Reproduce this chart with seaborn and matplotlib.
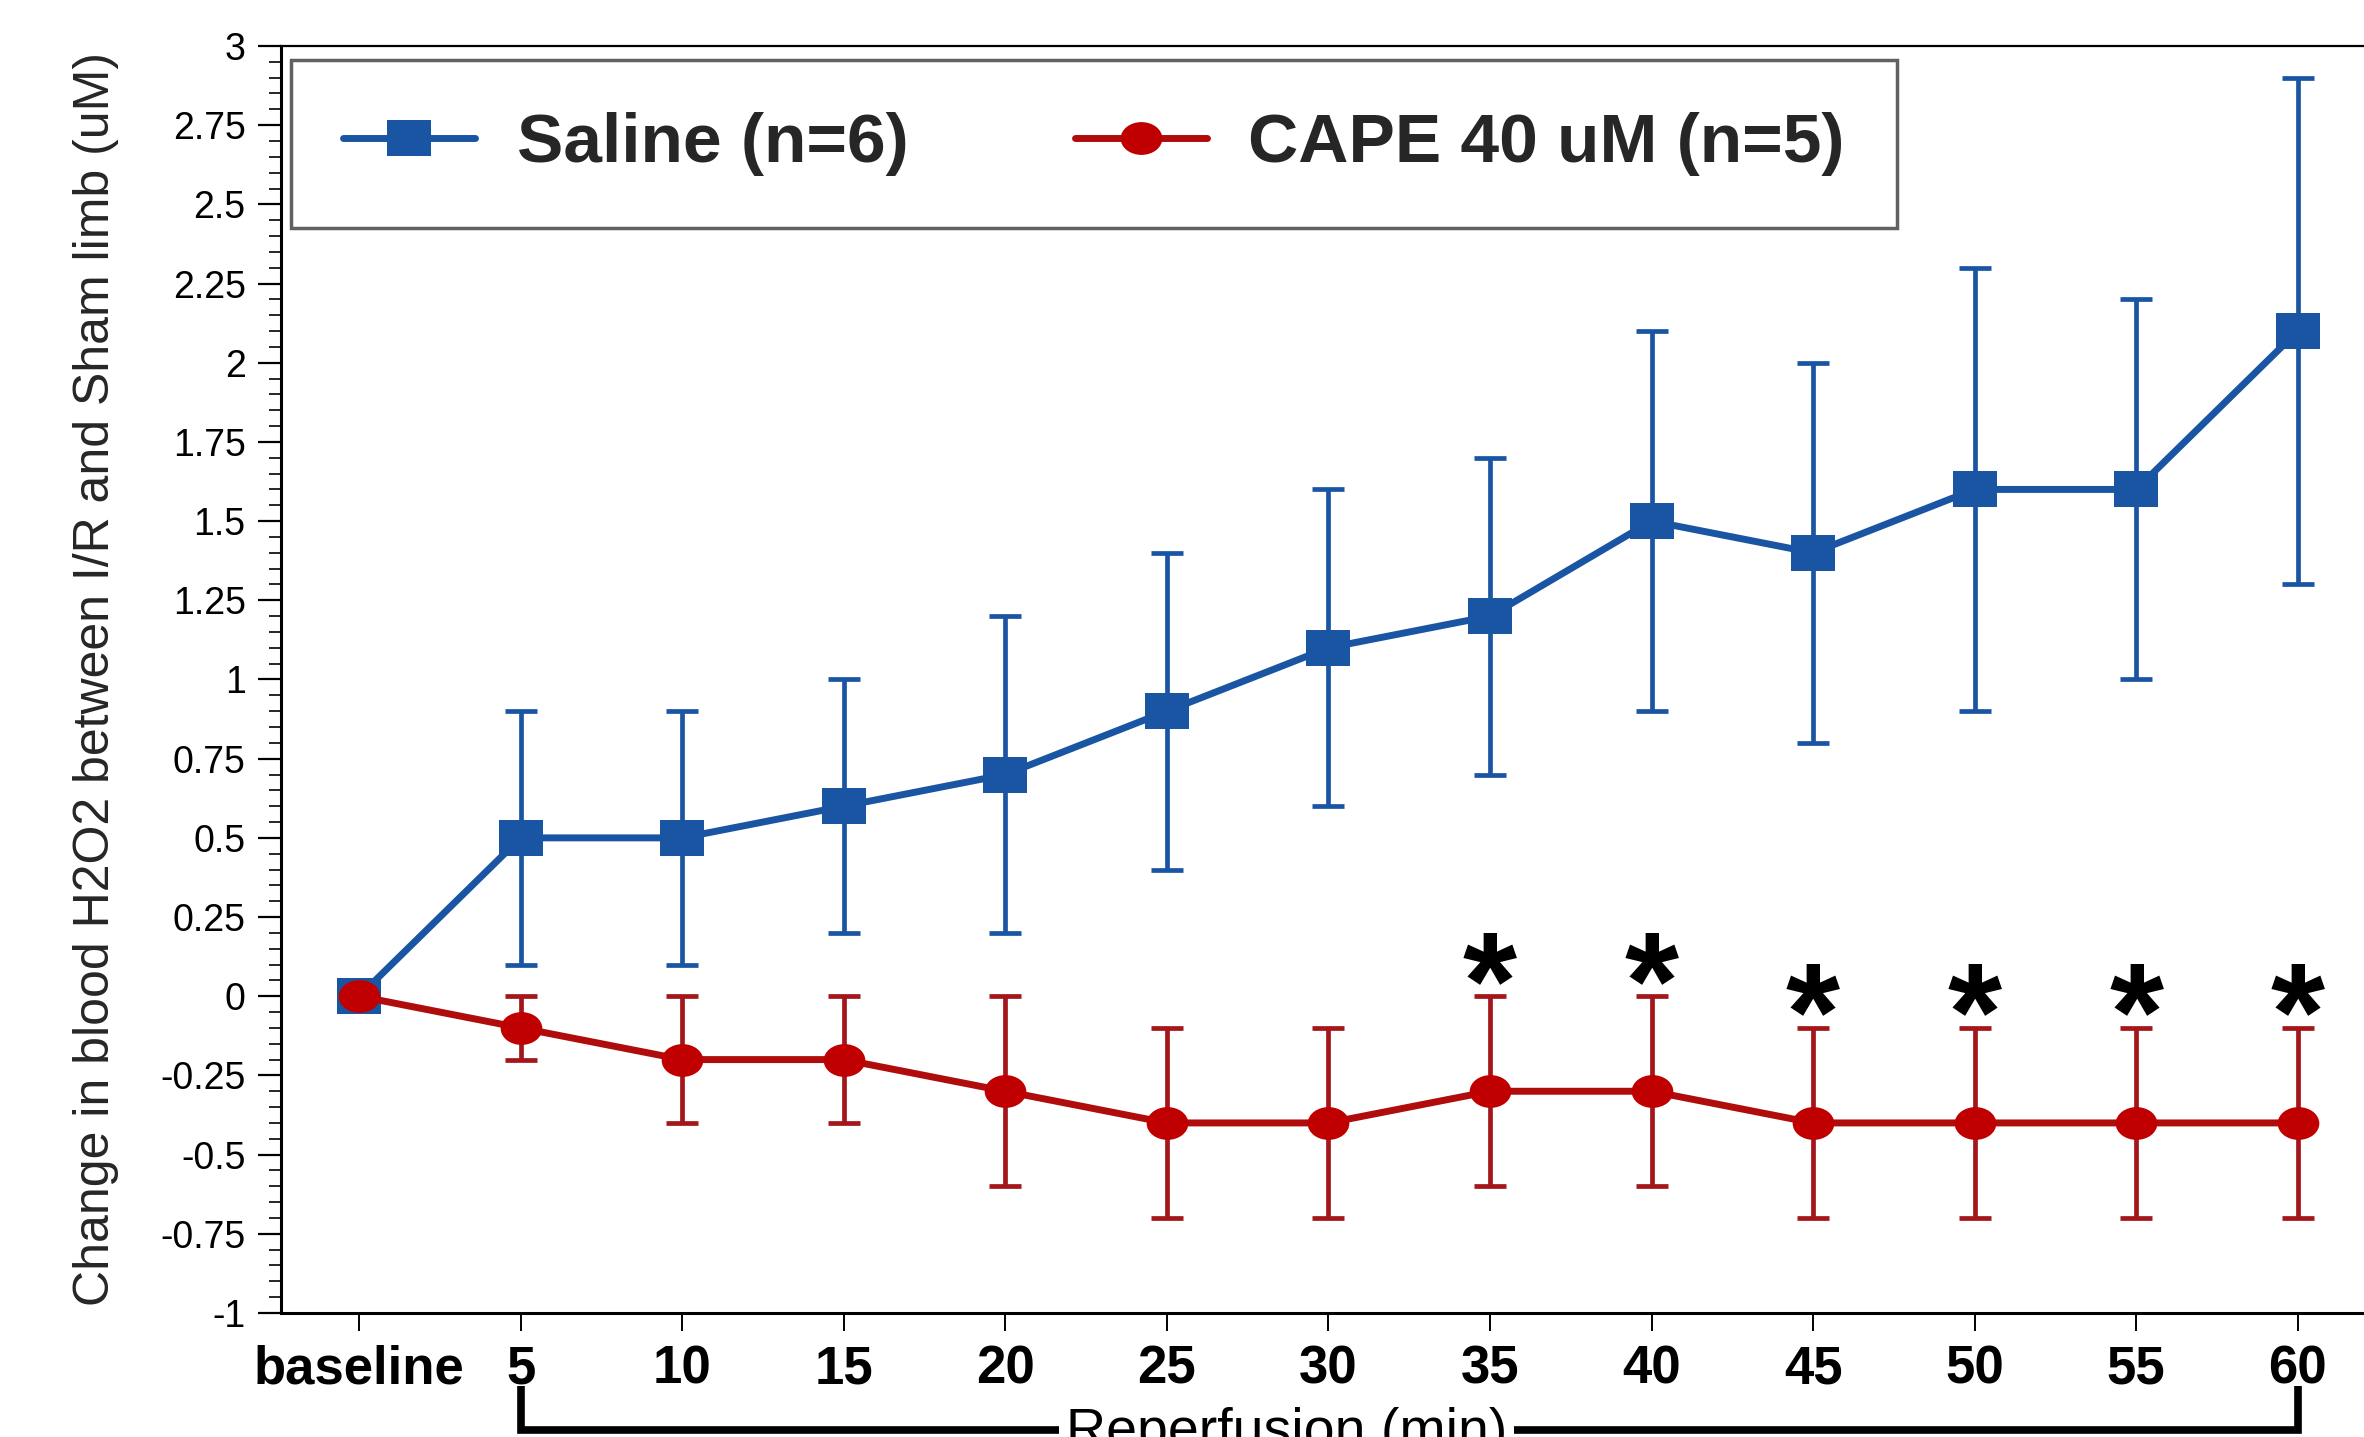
import numpy as np
import pandas as pd
import matplotlib
matplotlib.use("Agg")
import matplotlib.pyplot as plt
import seaborn as sns
from matplotlib.path import Path
from matplotlib.transforms import Affine2D, blended_transform_factory
from matplotlib.lines import Line2D
from matplotlib.ticker import MultipleLocator, FuncFormatter

# ---------------- data ----------------
time_labels = ["baseline", "5", "10", "15", "20", "25", "30",
               "35", "40", "45", "50", "55", "60"]
saline_mean = [0.0, 0.5, 0.5, 0.6, 0.7, 0.9, 1.1, 1.2, 1.5, 1.4, 1.6, 1.6, 2.1]
saline_err = [0.0, 0.4, 0.4, 0.4, 0.5, 0.5, 0.5, 0.5, 0.6, 0.6, 0.7, 0.6, 0.8]
cape_mean = [0.0, -0.1, -0.2, -0.2, -0.3, -0.4, -0.4, -0.3, -0.3, -0.4, -0.4, -0.4, -0.4]
cape_err = [0.0, 0.1, 0.2, 0.2, 0.3, 0.3, 0.3, 0.3, 0.3, 0.3, 0.3, 0.3, 0.3]
significant = ["35", "40", "45", "50", "55", "60"]
series_names = ["Saline (n=6)", "CAPE 40 uM (n=5)"]
y_label = "Change in blood H2O2 between I/R and Sham limb (uM)"
bracket_label = "Reperfusion (min)"

# ---------------- style ----------------
sns.set_style("white")
plt.rcParams["font.family"] = ["Liberation Sans", "DejaVu Sans"]
plt.rcParams["axes.unicode_minus"] = False

blue = "#1a55a3"
red = "#c00000"
red_line = "#b00c0c"
red_err = "#a3161a"

sq_marker = Path.unit_rectangle().transformed(Affine2D().translate(-0.5, -0.5).scale(1.23, 1.0))
ci_marker = Path.unit_circle().transformed(Affine2D().scale(1.27, 1.0))

pos = np.arange(len(time_labels))
df = pd.DataFrame({
    "pos": np.concatenate([pos, pos]),
    "value": saline_mean + cape_mean,
    "group": [series_names[0]] * len(pos) + [series_names[1]] * len(pos),
})

fig = plt.figure(figsize=(23.64, 14.37), dpi=100)
ax = fig.add_axes([0.1189, 0.0863, 0.8811, 0.8817])

# error bars first (under lines/markers)
s_err = np.array(saline_err)
c_err = np.array(cape_err)
m_s = s_err > 0
m_c = c_err > 0
ax.errorbar(pos[m_s], np.array(saline_mean)[m_s], yerr=s_err[m_s], fmt="none",
            ecolor=blue, elinewidth=3.4, capsize=11.5, capthick=3.4, zorder=2)
ax.errorbar(pos[m_c], np.array(cape_mean)[m_c], yerr=c_err[m_c], fmt="none",
            ecolor=red_err, elinewidth=3.4, capsize=11.5, capthick=3.4, zorder=2)

sns.lineplot(data=df[df.group == series_names[0]], x="pos", y="value", ax=ax,
             color=blue, linewidth=5, marker=sq_marker, markersize=31,
             markeredgewidth=0, markerfacecolor=blue, errorbar=None, zorder=3)
sns.lineplot(data=df[df.group == series_names[1]], x="pos", y="value", ax=ax,
             color=red_line, linewidth=5, marker=ci_marker, markersize=30,
             markeredgewidth=0, markerfacecolor=red, errorbar=None, zorder=4)

# significance stars
for lab in significant:
    i = time_labels.index(lab)
    ax.text(pos[i], cape_mean[i] + cape_err[i] - 0.10, "*", ha="center", va="baseline",
            fontsize=100, fontweight="bold", color="black", zorder=5)

# axes
ax.set_xlim(-0.483, 12.41)
ax.set_ylim(-1, 3)
ax.set_xticks(pos)
ax.set_xticklabels(time_labels, fontsize=38, fontweight="bold")
ax.yaxis.set_major_locator(MultipleLocator(0.25))
ax.yaxis.set_minor_locator(MultipleLocator(0.05))
ax.yaxis.set_major_formatter(FuncFormatter(lambda v, p: f"{v:g}"))
ax.tick_params(axis="y", which="major", direction="out", length=16.5, width=1.6,
               labelsize=27, pad=9, left=True, colors="black")
ax.tick_params(axis="y", which="minor", direction="out", length=8.5, width=1.4, left=True)
ax.tick_params(axis="x", which="major", direction="out", length=13, width=1.4,
               pad=10, bottom=True, colors="black")
ax.set_xlabel("")
ax.set_ylabel(y_label, fontsize=36, va="center")
ax.yaxis.set_label_coords(-0.0888, 0.5)

for side in ["left", "bottom"]:
    ax.spines[side].set_linewidth(2.2)
    ax.spines[side].set_color("black")
ax.spines["top"].set_linewidth(1.6)
ax.spines["top"].set_color("black")
ax.spines["right"].set_visible(False)

# legend
handles = [
    Line2D([], [], color=blue, lw=5, marker=sq_marker, markersize=31,
           markerfacecolor=blue, markeredgewidth=0),
    Line2D([], [], color=red_line, lw=5, marker=ci_marker, markersize=30,
           markerfacecolor=red, markeredgewidth=0),
]
leg = ax.legend(handles, series_names, loc="upper left",
                bbox_to_anchor=(0.0048, 0.889, 0.771, 0.1), mode="expand",
                ncol=2, frameon=True, fancybox=False, borderaxespad=0,
                prop={"size": 50, "weight": "bold"}, handlelength=1.9,
                handletextpad=0.6, columnspacing=2.0, borderpad=0.75)
leg.get_frame().set_edgecolor("#3a3a3a")
leg.get_frame().set_linewidth(2.5)

# reperfusion bracket under the axis
tr = blended_transform_factory(ax.transData, ax.transAxes)
y_top, y_bot = -0.058, -0.0924
i5 = time_labels.index("5")
i60 = time_labels.index("60")
ax.plot([pos[i5], pos[i5], pos[i60], pos[i60]], [y_top, y_bot, y_bot, y_top],
        color="black", lw=5.5, transform=tr, clip_on=False, solid_joinstyle="miter",
        solid_capstyle="butt")
ax.text(5.74, -0.1058, bracket_label, transform=tr, ha="center", va="baseline",
        fontsize=40, color="black", clip_on=False,
        bbox=dict(facecolor="white", edgecolor="none", pad=5))

fig.savefig("out.png", dpi=100)
